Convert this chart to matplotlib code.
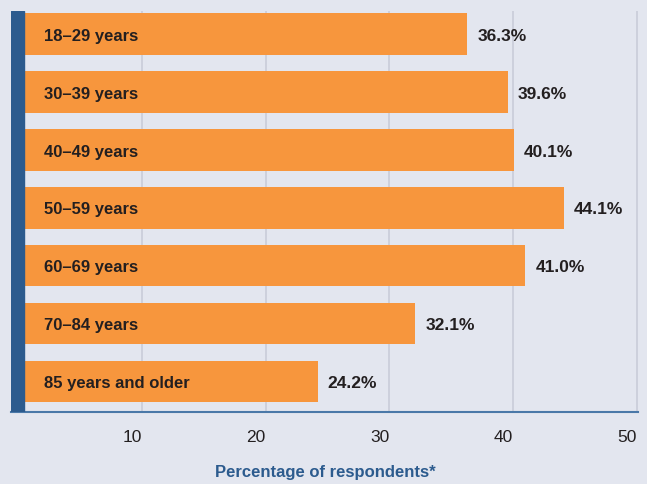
import matplotlib
matplotlib.use("Agg")
import matplotlib.pyplot as plt

categories = ["18\u201329 years", "30\u201339 years", "40\u201349 years", "50\u201359 years",
              "60\u201369 years", "70\u201384 years", "85 years and older"]
values = [36.3, 39.6, 40.1, 44.1, 41.0, 32.1, 24.2]
xticks = [10, 20, 30, 40, 50]

BG = "#e3e6ef"
ORANGE = "#f7963d"
BLUE = "#2c5b8e"
GRID = "#c9ccd9"
TEXT = "#231f20"

plt.rcParams['font.family'] = ['Liberation Sans', 'DejaVu Sans']

W, H = 647, 485
fig = plt.figure(figsize=(W/100, H/100), dpi=100, facecolor=BG)
ax = fig.add_axes([11/W, 1 - 413/H, (638-11)/W, (413-12)/H])
ax.set_facecolor(BG)

y = list(range(len(categories)))
ax.barh(y, values, height=0.72, color=ORANGE, zorder=2)
ax.set_ylim(6.53, -0.4)
ax.set_xlim(-0.59, 50.1)

ax.axvspan(-0.59, 0.46, color=BLUE, zorder=3)

for yi, (c, v) in enumerate(zip(categories, values)):
    ax.text(2.1, yi + 0.02, c, ha='left', va='center', fontsize=12, fontweight='bold',
            color=TEXT, zorder=4)
    ax.text(v + 0.8, yi + 0.02, f"{v:.1f}%", ha='left', va='center', fontsize=12.5,
            fontweight='bold', color=TEXT, zorder=4)

ax.set_xticks(xticks)
ax.set_xticklabels([str(t) for t in xticks], ha='right', fontsize=12.5, color=TEXT)
ax.tick_params(axis='x', length=0, pad=12)
ax.set_yticks([])
ax.grid(axis='x', color=GRID, linewidth=1.2, zorder=1)
for s in ['top', 'right', 'left']:
    ax.spines[s].set_visible(False)
ax.spines['bottom'].set_color('#4a78a8')
ax.spines['bottom'].set_linewidth(1.5)

fig.text(0.5025, 1 - 473/H, "Percentage of respondents*", ha='center', va='center',
         fontsize=12, fontweight='bold', color=BLUE)

fig.savefig("out.png", dpi=100, facecolor=BG)
